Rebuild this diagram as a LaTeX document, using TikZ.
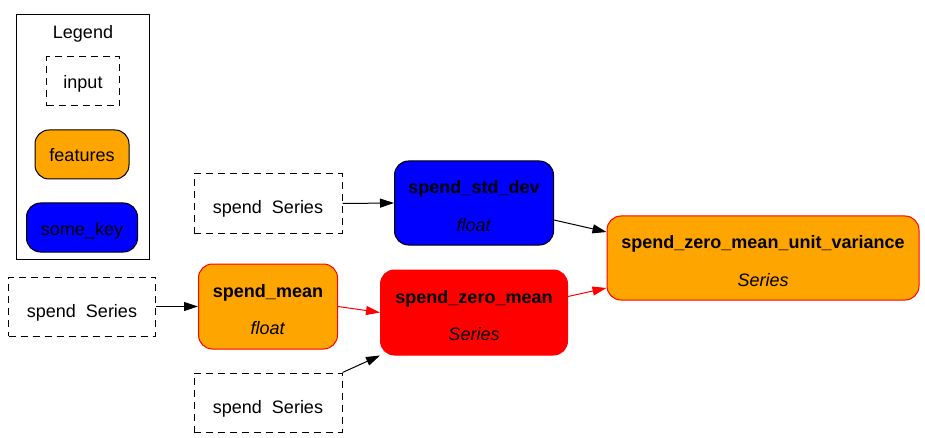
\documentclass[tikz,border=0pt]{standalone}
\usepackage{fontspec}
\setmainfont{Liberation Sans}
\usetikzlibrary{arrows.meta}

\definecolor{featorange}{HTML}{FFA500}
\definecolor{keyblue}{HTML}{0000FF}
\definecolor{hotred}{HTML}{FF0000}

% two-line label of a function node: name, then type
\newcommand{\fnlabel}[2]{\begin{tabular}[t]{@{}c@{}}\textbf{#1}\\\textit{#2}\end{tabular}}

\begin{document}
\begin{tikzpicture}[x=1pt, y=-1pt,
    every node/.style={font=\fontsize{18}{37.5}\selectfont, inner sep=0pt},
    inbox/.style={draw, dash pattern=on 7pt off 5pt, line width=1pt, text height=21pt, text depth=0pt},
    fnbox/.style={draw, rounded corners=14pt, line width=1pt, text height=0pt, text depth=19pt},
    legbox/.style={text height=15pt, text depth=0pt},
    link/.style={-{Triangle[length=14pt, width=9pt]}, line width=1pt}]
    % Fix the page to the reference size
    \useasboundingbox (0,0) rectangle (925,438);

    % Legend box with its three samples
    \draw[line width=1pt] (16,15) rectangle (149,259);
    \node[anchor=base] (legtitle) at (83,39) {Legend};
    \node[inbox, legbox, minimum width=73pt, minimum height=49pt] (leginput) at (83,81.5) {input};
    \node[fnbox, legbox, fill=featorange, minimum width=94pt, minimum height=49pt] (legfeat) at (82,154.5) {features};
    \node[fnbox, legbox, fill=keyblue, minimum width=111pt, minimum height=49pt] (legkey) at (82,227.5) {some\_key};

    % Inputs (dashed)
    \node[inbox, minimum width=148pt, minimum height=59pt] (inTop) at (268,203.5) {spend\ \ Series};
    \node[inbox, minimum width=147pt, minimum height=59pt] (inLeft) at (82,306.5) {spend\ \ Series};
    \node[inbox, minimum width=148pt, minimum height=59pt] (inBot) at (268,402.5) {spend\ \ Series};

    % Functions
    \node[fnbox, draw=hotred, fill=featorange, minimum width=139pt, minimum height=85pt] (mean) at (268,306.5)
        {\fnlabel{spend\_mean}{float}};
    \node[fnbox, fill=keyblue, minimum width=159pt, minimum height=84pt] (stddev) at (474,203)
        {\fnlabel{spend\_std\_dev}{float}};
    \node[fnbox, draw=hotred, fill=hotred, minimum width=187pt, minimum height=85pt] (zeromean) at (474,312.5)
        {\fnlabel{spend\_zero\_mean}{Series}};
    \node[fnbox, draw=hotred, fill=featorange, minimum width=312pt, minimum height=84pt] (zmuv) at (763,258)
        {\fnlabel{spend\_zero\_mean\_unit\_variance}{Series}};

    % Edges
    \draw[link] (inTop.east) -- (stddev.west);
    \draw[link] (inLeft.east) -- (mean.west);
    \draw[link, hotred] (mean.east) -- (zeromean.west);
    \draw[link] (inBot.north east) -- (zeromean.south west);
    \draw[link] (stddev.east) ++(0,17) -- (zmuv.west |- 0,232);
    \draw[link, hotred] (zeromean.east) ++(0,-16) -- (zmuv.west |- 0,288);
\end{tikzpicture}
\end{document}
